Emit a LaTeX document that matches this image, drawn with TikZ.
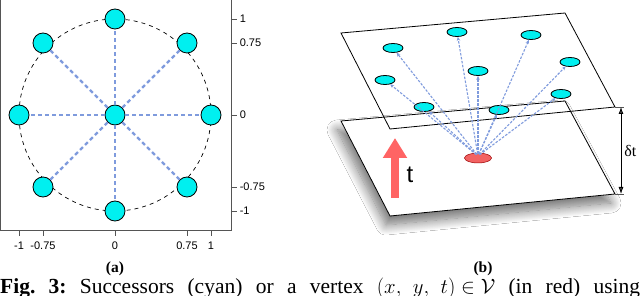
\documentclass[tikz,border=0pt]{standalone}
\usepackage{fontspec}
\setmainfont{Liberation Serif}
\setsansfont{Liberation Sans}
\usetikzlibrary{shapes.geometric, shadows.blur, arrows.meta}
\definecolor{succ-cyan}{HTML}{00F0F0}
\definecolor{link-blue}{HTML}{7F9BDD}
\definecolor{vert-red}{HTML}{F26262}
\definecolor{time-red}{HTML}{FF6464}
\definecolor{frame-gray}{HTML}{555555}

\tikzset{
  succ/.style={draw, circle, fill=succ-cyan, minimum size=20pt, inner sep=0pt, line width=0.8pt},
  spoke/.style={link-blue, line width=2.3pt, dash pattern=on 4pt off 3pt},
  tickmark/.style={frame-gray, line width=0.7pt},
  flatsucc/.style={draw, ellipse, fill=succ-cyan, minimum width=20pt, minimum height=9pt, inner sep=0pt, line width=0.8pt},
  hop/.style={link-blue, line width=1.1pt, dash pattern=on 2.5pt off 1.5pt, -{Stealth[length=4pt, width=3.5pt]}},
  plane/.style={draw, line width=0.8pt}
}

\begin{document}
\begin{tikzpicture}[x=1pt, y=-1pt, every node/.style={font=\sffamily\fontsize{11}{11}\selectfont}]
  \clip (0,0) rectangle (640,296);
  \fill[white] (0,0) rectangle (640,296);

  % (a) successors in the plane
  \begin{scope}[shift={(115,115)}, x=96pt, y=96pt]
    \draw[frame-gray, line width=0.8pt] (-1.19,1.3) rectangle (1.208,-1.198);
    \draw[line width=0.7pt, dash pattern=on 4pt off 4pt] (0,0) circle (1);
    \foreach \v in {1, 0.75, 0, -0.75, -1} {
      \draw[tickmark] (1.208,\v) -- ++(6pt,0) node[right, inner sep=2.5pt, text=black] {\v};
      \draw[tickmark] (\v,-1.198) -- ++(0,-6pt) node[below, inner sep=5.5pt, text=black] {\v};
    }
    \node[succ] (c) at (0,0) {};
    \node[succ] (s1) at (0,1) {};
    \node[succ] (s2) at (0.75,0.75) {};
    \node[succ] (s3) at (1,0) {};
    \node[succ] (s4) at (0.75,-0.75) {};
    \node[succ] (s5) at (0,-1) {};
    \node[succ] (s6) at (-0.75,-0.75) {};
    \node[succ] (s7) at (-1,0) {};
    \node[succ] (s8) at (-0.75,0.75) {};
    \foreach \i in {1,...,8}
      \draw[spoke] (c) -- (s\i);
  \end{scope}
  \node[inner sep=0pt, font=\rmfamily\bfseries\fontsize{15.5}{15.5}\selectfont] (laba) at (115,269) {(a)};

  % (b) successors one time step later
  \draw[plane, fill=white, blur shadow={shadow xshift=-4pt, shadow yshift=-9pt, shadow blur radius=10pt, shadow blur steps=14, shadow opacity=55}]
    (341,121) -- (565,101) -- (615,194) -- (390,216) -- cycle;
  \draw[plane] (341,33) -- (565,13) -- (615,107) -- (390,129) -- cycle;
  \coordinate (topcorner) at (615,107);
  \coordinate (botcorner) at (615,194);
  \draw[tickmark] (topcorner) -- ++(9,0) coordinate (toptick);
  \draw[tickmark] (botcorner) -- ++(9,0) coordinate (bottick);
  \draw[line width=0.8pt, {Latex[length=7pt, width=5pt]}-{Latex[length=7pt, width=5pt]}]
    ([xshift=-3pt]toptick) -- ([xshift=-3pt]bottick)
    node[midway, right, inner sep=3pt, font=\rmfamily\fontsize{16}{16}\selectfont] (dt) {δt};

  \draw[time-red, line width=8pt, -{Triangle[width=23pt, length=20pt]}] (395,198) -- (395,138);
  \node[font=\sffamily\fontsize{24}{24}\selectfont, anchor=base] (tlab) at (410,183) {t};

  \node[flatsucc] (f1) at (457,32) {};
  \node[flatsucc] (f2) at (531,35) {};
  \node[flatsucc] (f3) at (393,48) {};
  \node[flatsucc] (f4) at (570,62) {};
  \node[flatsucc] (f5) at (478,71) {};
  \node[flatsucc] (f6) at (385,80) {};
  \node[flatsucc] (f7) at (561,94) {};
  \node[flatsucc] (f8) at (424,107) {};
  \node[flatsucc] (f9) at (499,110) {};
  \node[draw=red!60!black, ellipse, fill=vert-red, minimum width=27pt, minimum height=10pt, inner sep=0pt, line width=0.5pt] (v) at (478,158) {};
  \foreach \i in {1,...,9}
    \draw[hop, shorten <=2pt] ([yshift=2pt]v.center) -- (f\i);
  \node[inner sep=0pt, font=\rmfamily\bfseries\fontsize{15.5}{15.5}\selectfont] (labb) at (483,269) {(b)};

  \node[anchor=base west, inner sep=0pt, font=\rmfamily\fontsize{21.5}{21.5}\selectfont] (caption) at (0,294)
    {\makebox[640pt][s]{\textbf{Fig.\ 3:}\ Successors (cyan) or a vertex $(x,\mskip7mu y,\mskip7mu t)\mskip5mu{\in}\mskip5mu\mathcal{V}$ (in red) using}};
\end{tikzpicture}
\end{document}
